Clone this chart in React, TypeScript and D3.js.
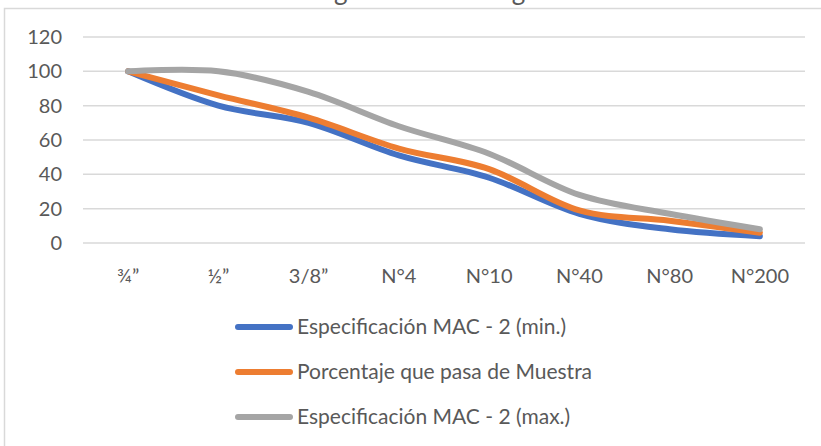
import React from "react";
import * as d3 from "d3";

// Sieve sizes on the x axis
const sieves: string[] = ["¾”", "½”", "3/8”", "N°4", "N°10", "N°40", "N°80", "N°200"];

// Percent passing for each series
const specMin: number[] = [100, 80, 70, 51, 38, 17, 8, 4];
const sample: number[] = [100, 86, 73, 55, 43, 19, 13, 6];
const specMax: number[] = [100, 100, 88, 68, 52, 28, 17, 8];

const seriesNames: string[] = [
  "Especificación MAC - 2 (min.)",
  "Porcentaje que pasa de Muestra",
  "Especificación MAC - 2 (max.)",
];
const seriesColors: string[] = ["#4472C4", "#ED7D31", "#A5A5A5"];

const yTicks: number[] = [0, 20, 40, 60, 80, 100, 120];

const W = 821;
const H = 446;
const FONT = "Lato, 'Open Sans', sans-serif";

export default function App() {
  const x = d3.scaleBand<string>().domain(sieves).range([83, 805]);
  const y = d3.scaleLinear().domain([0, 120]).range([243, 37]);
  const cx = (s: string) => (x(s) as number) + x.bandwidth() / 2;

  const line = d3
    .line<number>()
    .x((_, i) => cx(sieves[i]))
    .y((d) => y(d))
    .curve(d3.curveCardinal.tension(0));

  const series = [specMin, sample, specMax];

  return (
    <svg
      width={W}
      height={H}
      viewBox={`0 0 ${W} ${H}`}
      style={{ position: "absolute", left: 0, top: 0, background: "#fff" }}
      fontFamily={FONT}
    >
      <rect x={0} y={0} width={W} height={H} fill="#fff" />
      {/* chart title, mostly above the visible area */}
      <text x={420} y={-0.5} textAnchor="middle" fontSize={26} fill="#595959">
        Curva granulométrica global
      </text>
      {/* chart frame */}
      <rect x={4.5} y={8.5} width={900} height={500} fill="none" stroke="#d9d9d9" strokeWidth={1.5} />

      {/* gridlines and y labels */}
      {yTicks.map((t) => (
        <g key={t}>
          <line x1={83} x2={805} y1={y(t)} y2={y(t)} stroke="#d9d9d9" strokeWidth={1.5} />
          <text x={62} y={y(t)} dy="0.35em" textAnchor="end" fontSize={20} fill="#595959">
            {t}
          </text>
        </g>
      ))}

      {/* x labels */}
      {sieves.map((s) => (
        <text key={s} x={cx(s)} y={283} textAnchor="middle" fontSize={20} fill="#595959">
          {s}
        </text>
      ))}

      {/* series lines */}
      {series.map((vals, i) => (
        <path
          key={i}
          d={line(vals) || ""}
          fill="none"
          stroke={seriesColors[i]}
          strokeWidth={6}
          strokeLinecap="round"
          strokeLinejoin="round"
        />
      ))}

      {/* legend */}
      {seriesNames.map((name, i) => {
        const ly = 327 + i * 45;
        return (
          <g key={name}>
            <line x1={238} x2={290} y1={ly} y2={ly} stroke={seriesColors[i]} strokeWidth={6} strokeLinecap="round" />
            <text x={297} y={ly} dy="0.35em" fontSize={21} fill="#595959">
              {name}
            </text>
          </g>
        );
      })}
    </svg>
  );
}
